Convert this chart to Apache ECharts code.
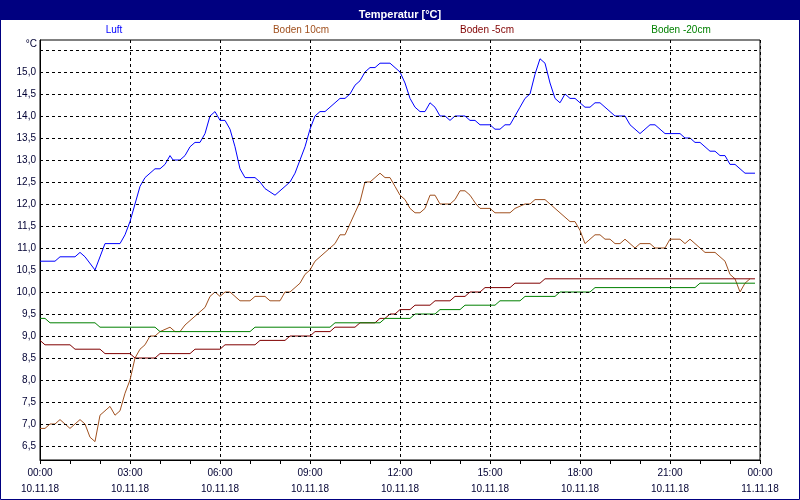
<!DOCTYPE html>
<html>
<head>
<meta charset="utf-8">
<script src="https://cdn.jsdelivr.net/npm/echarts@6/dist/echarts.min.js"></script>
<style>html,body{margin:0;padding:0;background:#fff;}#c{width:800px;height:500px;}</style>
</head>
<body>
<div id="c"></div>
<script>
// ---- data (x = minutes since 10.11.18 00:00) ----
const seriesNames = ['Luft', 'Boden 10cm', 'Boden -5cm', 'Boden -20cm'];
const seriesColors = ['#0000ff', '#a0501e', '#800000', '#008000'];

const luft = [[0,10.7],[30,10.7],[40,10.8],[70,10.8],[80,10.9],[90,10.8],[110,10.5],[130,11.1],[160,11.1],[170,11.3],[180,11.6],[190,12.0],[200,12.4],[210,12.6],[220,12.7],[230,12.8],[240,12.8],[250,12.9],[260,13.1],[266,13.0],[280,13.0],[290,13.1],[300,13.3],[310,13.4],[320,13.4],[330,13.6],[340,14.0],[350,14.1],[360,13.9],[370,13.9],[380,13.7],[390,13.3],[400,12.8],[410,12.6],[430,12.6],[440,12.5],[450,12.35],[470,12.2],[490,12.4],[500,12.5],[510,12.7],[520,13.0],[530,13.3],[540,13.7],[550,14.0],[560,14.1],[570,14.1],[580,14.2],[590,14.3],[600,14.4],[610,14.4],[620,14.5],[630,14.7],[640,14.8],[650,15.0],[660,15.1],[670,15.1],[680,15.2],[700,15.2],[710,15.1],[720,15.0],[730,14.75],[740,14.4],[750,14.2],[760,14.1],[770,14.1],[780,14.3],[790,14.2],[800,14.0],[810,14.0],[820,13.9],[830,14.0],[850,14.0],[860,13.9],[870,13.9],[880,13.8],[900,13.8],[910,13.7],[920,13.7],[930,13.8],[940,13.8],[950,14.0],[960,14.2],[970,14.4],[980,14.5],[990,14.95],[1000,15.3],[1010,15.2],[1020,14.75],[1030,14.4],[1040,14.3],[1050,14.5],[1060,14.4],[1070,14.4],[1080,14.3],[1090,14.2],[1100,14.2],[1110,14.3],[1120,14.3],[1130,14.2],[1140,14.1],[1150,14.0],[1170,14.0],[1180,13.8],[1190,13.7],[1200,13.6],[1210,13.7],[1220,13.8],[1230,13.8],[1240,13.7],[1250,13.6],[1280,13.6],[1290,13.5],[1300,13.5],[1310,13.4],[1320,13.4],[1330,13.3],[1340,13.2],[1350,13.2],[1360,13.1],[1370,13.1],[1380,12.9],[1390,12.9],[1400,12.8],[1410,12.7],[1430,12.7]];

const boden10 = [[0,6.9],[10,6.9],[20,7.0],[30,7.0],[40,7.1],[50,7.0],[60,6.9],[70,7.0],[80,7.1],[90,7.0],[100,6.7],[110,6.6],[120,7.2],[130,7.3],[140,7.4],[150,7.2],[160,7.3],[170,7.7],[180,8.0],[190,8.5],[200,8.7],[210,8.8],[220,9.0],[230,9.0],[240,9.1],[250,9.15],[260,9.2],[270,9.1],[280,9.1],[290,9.25],[300,9.35],[310,9.45],[320,9.55],[330,9.65],[340,9.9],[350,10.0],[360,9.9],[370,10.0],[380,10.0],[390,9.9],[400,9.8],[420,9.8],[430,9.9],[450,9.9],[460,9.8],[480,9.8],[490,10.0],[500,10.0],[510,10.1],[520,10.2],[530,10.4],[540,10.5],[550,10.7],[560,10.8],[570,10.9],[580,11.0],[590,11.1],[600,11.3],[610,11.3],[620,11.55],[630,11.8],[640,12.05],[650,12.5],[660,12.5],[670,12.6],[680,12.7],[690,12.6],[700,12.6],[710,12.4],[720,12.2],[730,12.1],[740,11.9],[750,11.8],[760,11.8],[770,11.9],[780,12.2],[790,12.2],[800,12.0],[820,12.0],[830,12.1],[840,12.3],[850,12.3],[860,12.2],[866,12.1],[872,12.0],[880,11.9],[900,11.9],[910,11.8],[940,11.8],[950,11.9],[960,11.95],[970,12.0],[980,12.0],[990,12.1],[1010,12.1],[1020,12.0],[1030,11.9],[1040,11.8],[1050,11.7],[1060,11.6],[1070,11.6],[1080,11.4],[1090,11.1],[1100,11.2],[1110,11.3],[1120,11.3],[1130,11.2],[1140,11.2],[1150,11.1],[1160,11.1],[1170,11.2],[1180,11.1],[1190,11.0],[1200,11.1],[1220,11.1],[1230,11.0],[1250,11.0],[1260,11.2],[1280,11.2],[1290,11.1],[1300,11.2],[1310,11.1],[1320,11.0],[1330,10.9],[1350,10.9],[1360,10.8],[1370,10.7],[1380,10.4],[1390,10.3],[1400,10.0],[1410,10.2],[1420,10.3]];

const bodenM5 = [[0,8.9],[10,8.8],[60,8.8],[70,8.7],[120,8.7],[130,8.6],[180,8.6],[190,8.5],[230,8.5],[240,8.6],[300,8.6],[310,8.7],[360,8.7],[370,8.8],[430,8.8],[440,8.9],[490,8.9],[500,9.0],[540,9.0],[550,9.1],[580,9.1],[590,9.2],[630,9.2],[640,9.3],[670,9.3],[680,9.4],[690,9.4],[700,9.5],[710,9.5],[720,9.6],[740,9.6],[750,9.7],[780,9.7],[790,9.8],[820,9.8],[830,9.9],[850,9.9],[860,10.0],[880,10.0],[890,10.1],[940,10.1],[950,10.2],[1000,10.2],[1010,10.3],[1430,10.3]];

const bodenM20 = [[0,9.4],[10,9.4],[20,9.3],[110,9.3],[120,9.2],[230,9.2],[240,9.1],[420,9.1],[430,9.2],[580,9.2],[590,9.3],[680,9.3],[690,9.4],[740,9.4],[750,9.5],[790,9.5],[800,9.6],[840,9.6],[850,9.7],[910,9.7],[920,9.8],[960,9.8],[970,9.9],[1030,9.9],[1040,10.0],[1100,10.0],[1110,10.1],[1310,10.1],[1320,10.2],[1430,10.2]];

const yTicks = [6.5,7.0,7.5,8.0,8.5,9.0,9.5,10.0,10.5,11.0,11.5,12.0,12.5,13.0,13.5,14.0,14.5,15.0];
const yGrid = [6.5,7.0,7.5,8.0,8.5,9.0,9.5,10.0,10.5,11.0,11.5,12.0,12.5,13.0,13.5,14.0,14.5,15.0,15.5];
const xTickTimes = ['00:00','03:00','06:00','09:00','12:00','15:00','18:00','21:00','00:00'];
const xTickDates = ['10.11.18','10.11.18','10.11.18','10.11.18','10.11.18','10.11.18','10.11.18','10.11.18','11.11.18'];
const titleText = 'Temperatur [°C]';
const unitText = '°C';

const chart = echarts.init(document.getElementById('c'), null, {renderer: 'canvas'});
const font = 'Liberation Sans, Arial, sans-serif';
const dataSets = [luft, boden10, bodenM5, bodenM20];
const legendX = [114, 301, 487, 681];

const option = {
  animation: false,
  backgroundColor: '#ffffff',
  title: {
    text: titleText, left: 'center', top: 4,
    textStyle: {color: '#ffffff', fontSize: 11, fontWeight: 'bold', fontFamily: font}
  },
  graphic: [
    {type: 'rect', z: -10, silent: true, shape: {x: 0, y: 0, width: 800, height: 20}, style: {fill: '#000080'}},
    {type: 'rect', z: 100, silent: true, shape: {x: 0.5, y: 0.5, width: 799, height: 499}, style: {fill: 'none', stroke: '#000080', lineWidth: 1}},
    {type: 'text', silent: true, style: {text: unitText, x: 37, y: 44, textAlign: 'right', textVerticalAlign: 'middle', fill: '#000033', font: '10px ' + font}}
  ].concat(seriesNames.map((n, i) => ({
    type: 'text', silent: true,
    style: {text: n, x: legendX[i], y: 30, textAlign: 'center', textVerticalAlign: 'middle', fill: seriesColors[i], font: '10px ' + font}
  }))),
  grid: {left: 40, right: 40, top: 40, bottom: 40, show: true, borderColor: '#000', borderWidth: 1, backgroundColor: 'transparent'},
  xAxis: {
    type: 'value', min: 0, max: 1440, interval: 180,
    axisLine: {show: true, lineStyle: {color: '#000', width: 1}},
    axisTick: {show: true, length: 4, lineStyle: {color: '#000'}},
    minorTick: {show: true, splitNumber: 3, length: 4, lineStyle: {color: '#000'}},
    splitLine: {show: true, lineStyle: {color: '#000', type: [3, 3], width: 1}},
    axisLabel: {
      margin: 5, color: '#000033', fontSize: 10, fontFamily: font, lineHeight: 16,
      formatter: v => { const k = Math.round(v / 180); return xTickTimes[k] + '\n' + xTickDates[k]; }
    }
  },
  yAxis: {
    type: 'value', min: 6.182, max: 15.727,
    axisLine: {show: true, lineStyle: {color: '#000', width: 1}},
    axisTick: {show: false},
    splitLine: {show: false},
    axisLabel: {
      customValues: yTicks, margin: 4, color: '#000033', fontSize: 10, fontFamily: font,
      formatter: v => v.toFixed(1).replace('.', ',')
    }
  },
  series: [{
    type: 'line', name: 'grid', data: [], z: 1, silent: true,
    markLine: {
      silent: true, symbol: ['none', 'none'], label: {show: false},
      lineStyle: {color: '#000', type: [3, 3], width: 1},
      emphasis: {disabled: true},
      data: yGrid.map(v => ({yAxis: v}))
    }
  }].concat(seriesNames.map((n, i) => ({
    type: 'line', name: n, data: dataSets[i], z: 3,
    showSymbol: false, symbol: 'none',
    lineStyle: {color: seriesColors[i], width: 1},
    itemStyle: {color: seriesColors[i]}
  })))
};
chart.setOption(option);
</script>
</body>
</html>
